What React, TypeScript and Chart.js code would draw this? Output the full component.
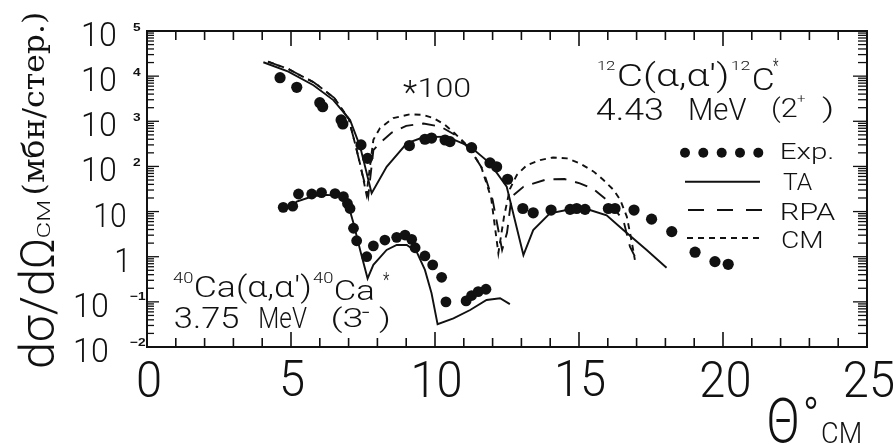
import React, { useEffect, useRef } from "react";
import { Chart, registerables } from "chart.js";

Chart.register(...registerables);

// ---------- data (angle in degrees c.m., cross section in mb/sr) ----------
const c12ExpTheta = [4.62, 5.2, 6.0, 6.1, 6.74, 6.8, 7.43, 7.66, 9.11, 9.65, 9.88, 10.35, 10.52, 11.27, 11.91, 12.14, 12.52, 13.05, 13.41, 14.03, 14.69, 14.92, 15.21, 16.02, 16.25, 16.91, 17.52, 18.22, 19.03, 19.72, 20.18];
const c12ExpSigma = [9250, 5660, 2580, 2100, 1070, 870, 300, 151, 290, 400, 425, 385, 355, 260, 120, 98, 52, 11.7, 9.4, 10.8, 11.2, 11.7, 11.2, 11.7, 11.7, 10.8, 6.8, 3.6, 1.26, 0.78, 0.68];

const c12TATheta = [4.04, 4.91, 5.78, 6.47, 7.05, 7.4, 7.8, 8.32, 9.02, 9.59, 10.41, 11.22, 11.91, 12.49, 13.07, 13.41, 13.99, 14.57, 15.38, 15.96, 16.54, 17.35, 18.04];
const c12TASigma = [20300, 12600, 6300, 2950, 1070, 275, 25.4, 98, 324, 442, 457, 275, 117, 35.5, 1.09, 3.9, 9.1, 10.8, 10.8, 8.3, 3.9, 1.41, 0.57];

const c12RPATheta = [4.2, 4.9, 5.8, 6.5, 7.0, 7.25, 7.45, 7.68, 7.86, 8.05, 8.5, 9.0, 9.6, 10.2, 10.8, 11.3, 11.67, 12.0, 12.33, 12.5, 12.66, 13.07, 13.88, 14.5, 15.03, 15.5, 15.96, 16.54, 16.77, 17.0];
const c12RPASigma = [20900, 14450, 7240, 3310, 1120, 282, 79.4, 21.4, 229, 316, 562, 794, 891, 759, 457, 200, 83.2, 18.2, 1.41, 3.39, 21.4, 35.5, 51.9, 52.5, 42.2, 31.6, 18.2, 6.46, 1.66, 0.85];

const c12CMTheta = [4.2, 4.9, 5.8, 6.5, 7.0, 7.22, 7.42, 7.62, 7.86, 8.09, 8.55, 9.13, 9.6, 9.95, 10.35, 10.69, 11.16, 11.6, 11.95, 12.2, 12.4, 12.6, 12.84, 13.19, 13.65, 14.1, 14.58, 15.03, 15.5, 15.85, 16.2, 16.43, 16.66, 16.84, 16.94];
const c12CMSigma = [20900, 14450, 7240, 3310, 1150, 330, 100, 24.0, 389, 708, 1175, 1430, 1380, 1175, 832, 537, 275, 100, 20.0, 1.2, 7.94, 31.6, 64.6, 107, 138, 158, 151, 117, 77.6, 50.1, 30.2, 18.2, 7.76, 2.0, 0.85];

const ca40ExpTheta = [4.73, 5.06, 5.26, 5.72, 6.06, 6.53, 6.82, 6.96, 7.05, 7.17, 7.28, 7.63, 7.86, 8.26, 8.67, 8.96, 9.19, 9.31, 9.65, 9.92, 10.23, 10.38, 11.08, 11.27, 11.5, 11.77];
const ca40ExpSigma = [12.4, 13.2, 24.5, 24.5, 26.3, 25.1, 21.4, 15.1, 11.7, 4.27, 2.26, 1.0, 1.74, 2.34, 2.69, 3.02, 2.43, 1.58, 1.04, 0.66, 0.35, 0.1, 0.105, 0.138, 0.168, 0.19];

const ca40TATheta = [5.05, 5.2, 5.78, 6.24, 6.7, 6.99, 7.17, 7.4, 7.66, 7.86, 8.32, 8.67, 9.02, 9.36, 9.65, 9.88, 10.09, 10.64, 11.22, 11.79, 12.26, 12.6];
const ca40TASigma = [13.2, 16.6, 22.1, 23.4, 22.1, 14.0, 5.5, 1.41, 0.33, 0.66, 1.41, 1.82, 1.82, 1.29, 0.51, 0.155, 0.032, 0.043, 0.066, 0.11, 0.12, 0.089];

const xTickLabels = [0, 5, 10, 15, 20, 25];
const yTickExponents = [-2, -1, 0, 1, 2, 3, 4, 5];
const legendLabels = ["Exp.", "TA", "RPA", "CM"];

const INK = "#111";
const SANS = "Roboto, 'Liberation Sans', sans-serif";

const pts = (xs: number[], ys: number[]) => xs.map((x, i) => ({ x, y: ys[i] }));

function fitText(ctx: CanvasRenderingContext2D, text: string, font: string, x0: number, y0: number, w: number, h: number) {
  ctx.save();
  ctx.font = font;
  ctx.textAlign = "left";
  ctx.textBaseline = "alphabetic";
  const m = ctx.measureText(text);
  const iw = m.actualBoundingBoxLeft + m.actualBoundingBoxRight;
  const ih = m.actualBoundingBoxAscent + m.actualBoundingBoxDescent;
  ctx.translate(x0, y0);
  ctx.scale(w / iw, h / ih);
  ctx.fillText(text, m.actualBoundingBoxLeft, m.actualBoundingBoxAscent);
  ctx.restore();
}
function box(ctx: CanvasRenderingContext2D, text: string, font: string, l: number, t: number, r: number, b: number) {
  fitText(ctx, text, font, l, t, r - l, b - t);
}
function boxRot(ctx: CanvasRenderingContext2D, text: string, font: string, l: number, t: number, r: number, b: number) {
  ctx.save();
  ctx.translate(l, b);
  ctx.rotate(-Math.PI / 2);
  fitText(ctx, text, font, 0, 0, b - t, r - l);
  ctx.restore();
}

const decor = {
  id: "decor",
  beforeDraw(chart: any) {
    const ctx = chart.ctx;
    ctx.save();
    ctx.fillStyle = "#fff";
    ctx.fillRect(0, 0, chart.width, chart.height);
    ctx.restore();
  },
  afterDatasetsDraw(chart: any) {
    const { ctx, chartArea: a, scales } = chart;
    const x = scales.x;
    const y = scales.y;
    ctx.save();
    ctx.strokeStyle = INK;
    ctx.fillStyle = INK;
    ctx.lineWidth = 2;
    ctx.strokeRect(a.left, a.top, a.right - a.left, a.bottom - a.top);
    const line = (x1: number, y1: number, x2: number, y2: number) => {
      ctx.beginPath();
      ctx.moveTo(x1, y1);
      ctx.lineTo(x2, y2);
      ctx.stroke();
    };
    ctx.lineWidth = 1.6;
    for (let v = 1; v < 25; v++) {
      const px = x.getPixelForValue(v);
      const len = v % 5 === 0 ? 15 : 9;
      line(px, a.bottom, px, a.bottom - len);
      line(px, a.top, px, a.top + len);
    }
    ctx.lineWidth = 1.3;
    for (let e = -2; e < 5; e++) {
      for (let m = 1; m <= 9; m++) {
        if (e === -2 && m === 1) continue;
        const py = y.getPixelForValue(m * Math.pow(10, e));
        line(a.left, py, a.left + (m === 1 ? 12 : 7), py);
        line(a.right, py, a.right - (m === 1 ? 14 : 9), py);
      }
    }

    // x tick labels
    ctx.font = `300 52px ${SANS}`;
    const m10 = ctx.measureText("10");
    const sx = 46 / (m10.actualBoundingBoxLeft + m10.actualBoundingBoxRight);
    const sy = 37 / (m10.actualBoundingBoxAscent + m10.actualBoundingBoxDescent);
    xTickLabels.forEach((v) => {
      const px = x.getPixelForValue(v) + 2;
      const t = String(v);
      const m = ctx.measureText(t);
      const iw = (m.actualBoundingBoxLeft + m.actualBoundingBoxRight) * sx;
      ctx.save();
      ctx.translate(px - iw / 2, 361);
      ctx.scale(sx, sy);
      ctx.textBaseline = "alphabetic";
      ctx.fillText(t, m.actualBoundingBoxLeft, m.actualBoundingBoxAscent);
      ctx.restore();
    });

    // y tick labels
    const yFont = `300 34px ${SANS}`;
    const eFont = `bold 12px 'Liberation Sans', sans-serif`;
    yTickExponents.forEach((e) => {
      const py = y.getPixelForValue(Math.pow(10, e));
      const t = py - 9;
      const b = py + 15;
      if (e === 0) {
        box(ctx, "1", yFont, 116, t, 125, b);
      } else if (e === 1) {
        box(ctx, "10", yFont, 95, t, 125, b);
      } else if (e > 1) {
        box(ctx, "10", yFont, 83, t, 115, b);
        box(ctx, String(e), eFont, 133, t, 141, t + 8.5);
      } else {
        box(ctx, "10", yFont, 75, t, 107, b);
        box(ctx, "\u2212" + Math.abs(e), eFont, 130, t - 1, 146, t + 7.5);
      }
    });

    // legend
    const ds = chart.data.datasets;
    const exp = ds[0];
    [685, 703.3, 721.7, 740, 758.3].forEach((cx) => {
      ctx.beginPath();
      ctx.arc(cx, 152.7, 5, 0, Math.PI * 2);
      ctx.fillStyle = exp.backgroundColor;
      ctx.fill();
    });
    const legLine = (d: any, x1: number, x2: number, yy: number, dash: number[]) => {
      ctx.save();
      ctx.strokeStyle = d.borderColor;
      ctx.lineWidth = d.borderWidth;
      ctx.setLineDash(dash);
      line(x1, yy, x2, yy);
      ctx.restore();
    };
    legLine(ds[2], 685, 760, 181.7, []);
    legLine(ds[3], 688, 762, 210, [16, 13]);
    legLine(ds[4], 687, 762, 238, [6, 5]);
    ctx.fillStyle = INK;
    const lf = `300 26px ${SANS}`;
    box(ctx, legendLabels[0], lf, 782, 143, 833, 163);
    box(ctx, legendLabels[1], lf, 783, 172, 812, 190);
    box(ctx, legendLabels[2], lf, 782, 202, 835, 220);
    box(ctx, legendLabels[3], lf, 782, 230, 822, 248);
    ctx.restore();
  },
  afterDraw(chart: any) {
    const ctx = chart.ctx;
    ctx.save();
    ctx.fillStyle = INK;
    const big = `300 30px ${SANS}`;
    const sup = `300 15px ${SANS}`;
    // *100
    box(ctx, "*", `300 26px ${SANS}`, 403, 80, 417, 94);
    box(ctx, "100", `300 27px ${SANS}`, 420, 78, 470, 97);
    // 12C(a,a')12C*
    box(ctx, "12", sup, 598, 60, 615, 70);
    box(ctx, "C(\u03b1,\u03b1')", big, 618, 61, 727, 93);
    box(ctx, "12", sup, 732, 60, 750, 70);
    box(ctx, "C", big, 753, 68, 773, 90);
    box(ctx, "*", sup, 773, 58, 779, 66);
    box(ctx, "4.43", big, 597, 98, 662, 120);
    box(ctx, "MeV", big, 690, 98, 747, 120);
    box(ctx, "(2", big, 773, 97, 797, 123);
    box(ctx, "+", sup, 797, 95, 805, 103);
    box(ctx, ")", big, 822, 97, 832, 123);
    // 40Ca(a,a')40Ca*
    box(ctx, "40", sup, 173, 272, 193, 283);
    box(ctx, "Ca(\u03b1,\u03b1')", `300 29px ${SANS}`, 195, 273, 310, 304);
    box(ctx, "40", sup, 313, 272, 333, 283);
    box(ctx, "Ca", `300 29px ${SANS}`, 335, 280, 373, 300);
    box(ctx, "*", sup, 383, 272, 390, 280);
    box(ctx, "3.75", `300 29px ${SANS}`, 175, 307, 238, 328);
    box(ctx, "MeV", `300 29px ${SANS}`, 260, 307, 307, 328);
    box(ctx, "(3", `300 29px ${SANS}`, 333, 305, 362, 333);
    box(ctx, "\u2212", `400 16px ${SANS}`, 362, 311, 369, 313);
    box(ctx, ")", `300 29px ${SANS}`, 379, 305, 389, 333);
    // axis title x
    box(ctx, "\u0398", `300 60px ${SANS}`, 769, 398, 797, 443);
    box(ctx, "\u00b0", `300 40px ${SANS}`, 805, 395, 817, 408);
    box(ctx, "CM", `300 28px ${SANS}`, 822, 422, 860, 443);
    // axis title y (rotated)
    boxRot(ctx, "d\u03c3/d\u03a9", `300 48px ${SANS}`, 17, 240, 58, 367);
    boxRot(ctx, "CM", `300 18px ${SANS}`, 37, 202, 50, 237);
    boxRot(ctx, "(\u043c\u0431\u043d/\u0441\u0442\u0435\u0440.)", `26px 'DejaVu Serif', 'Liberation Serif', serif`, 20, 13, 50, 193);
    ctx.restore();
  },
};

export default function App() {
  const ref = useRef<HTMLCanvasElement | null>(null);
  useEffect(() => {
    if (!ref.current) return;
    const chart = new Chart(ref.current, {
      type: "scatter",
      data: {
        datasets: [
          { label: "12C Exp", data: pts(c12ExpTheta, c12ExpSigma), showLine: false, pointRadius: 5.6, pointHoverRadius: 5.6, backgroundColor: INK, borderWidth: 0, pointBorderWidth: 0 },
          { label: "40Ca Exp", data: pts(ca40ExpTheta, ca40ExpSigma), showLine: false, pointRadius: 5.4, pointHoverRadius: 5.4, backgroundColor: INK, borderWidth: 0, pointBorderWidth: 0 },
          { label: "12C TA", data: pts(c12TATheta, c12TASigma), showLine: true, pointRadius: 0, borderColor: INK, borderWidth: 1.9, tension: 0 },
          { label: "12C RPA", data: pts(c12RPATheta, c12RPASigma), showLine: true, pointRadius: 0, borderColor: INK, borderWidth: 1.9, borderDash: [13, 9], tension: 0 },
          { label: "12C CM", data: pts(c12CMTheta, c12CMSigma), showLine: true, pointRadius: 0, borderColor: INK, borderWidth: 1.9, borderDash: [6, 5], tension: 0 },
          { label: "40Ca TA", data: pts(ca40TATheta, ca40TASigma), showLine: true, pointRadius: 0, borderColor: INK, borderWidth: 1.9, tension: 0 },
        ],
      },
      options: {
        animation: false,
        responsive: false,
        events: [],
        layout: { padding: { left: 147, right: 29, top: 31, bottom: 97 } },
        scales: {
          x: { type: "linear", min: 0, max: 25, display: false },
          y: { type: "logarithmic", min: 0.01, max: 100000, display: false },
        },
        plugins: { legend: { display: false }, tooltip: { enabled: false } },
      },
      plugins: [decor],
    });
    return () => chart.destroy();
  }, []);
  return (
    <div style={{ position: "absolute", left: 0, top: 0, width: 896, height: 444, background: "#fff" }}>
      <canvas ref={ref} width={896} height={444} style={{ display: "block" }} />
    </div>
  );
}
